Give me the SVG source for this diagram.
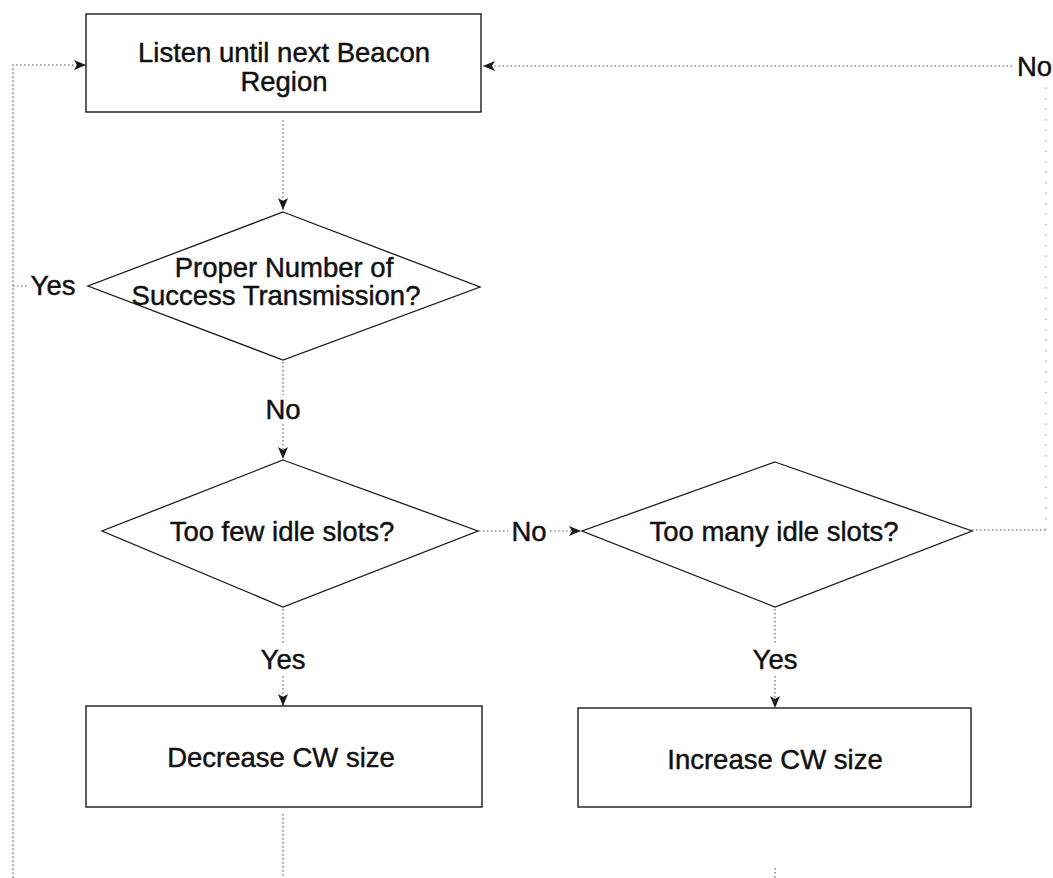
<svg xmlns="http://www.w3.org/2000/svg" width="1053" height="878" viewBox="0 0 1053 878">
  <style>
    .box { fill: #ffffff; stroke: #1a1a1a; stroke-width: 1.4; }
    .dia { fill: #ffffff; stroke: #1a1a1a; stroke-width: 1.3; }
    .t { font-family: "Liberation Sans", Arial, sans-serif; font-size: 27.5px; fill: #111111; stroke: #111111; stroke-width: 0.45; text-anchor: middle; }
    .c { fill: none; stroke: #555555; stroke-width: 1.1; stroke-dasharray: 1.5 2.5; }
    .faint { fill: none; stroke: #999999; stroke-width: 1; stroke-dasharray: 1.5 9; }
  </style>
  <defs>
    <marker id="arr" viewBox="0 0 12 10" refX="12" refY="5" markerWidth="12" markerHeight="10" markerUnits="userSpaceOnUse" orient="auto">
      <path d="M0,0 L12,5 L0,10 L3,5 Z" fill="#1a1a1a"/>
    </marker>
  </defs>
  <rect width="1053" height="878" fill="#ffffff"/>

  <g id="connectors">
    <line class="c" x1="283" y1="120" x2="283" y2="210" marker-end="url(#arr)"/>
    <line class="c" x1="283" y1="362" x2="283" y2="395"/>
    <line class="c" x1="283" y1="424" x2="283" y2="459" marker-end="url(#arr)"/>
    <line class="c" x1="13" y1="286" x2="29" y2="286"/>
    <polyline class="c" points="13,878 13,65 86,65" marker-end="url(#arr)"/>
    <line class="c" x1="479" y1="531" x2="508" y2="531"/>
    <line class="c" x1="550" y1="531" x2="581" y2="531" marker-end="url(#arr)"/>
    <line class="c" x1="283" y1="609" x2="283" y2="643"/>
    <line class="c" x1="283" y1="676" x2="283" y2="706" marker-end="url(#arr)"/>
    <line class="c" x1="775" y1="609" x2="775" y2="643"/>
    <line class="c" x1="775" y1="676" x2="775" y2="708" marker-end="url(#arr)"/>
    <line class="c" x1="972" y1="530" x2="1046" y2="530"/>
    <line class="faint" x1="1046" y1="530" x2="1046" y2="85"/>
    <line class="c" x1="1012" y1="66" x2="483" y2="66" marker-end="url(#arr)"/>
    <line class="c" x1="283" y1="814" x2="283" y2="878"/>
    <line class="c" x1="775" y1="868" x2="775" y2="878"/>
    <text class="t" x="53" y="295">Yes</text>
    <text class="t" x="283" y="419">No</text>
    <text class="t" x="529" y="541">No</text>
    <text class="t" x="283" y="669">Yes</text>
    <text class="t" x="775" y="669">Yes</text>
    <text class="t" x="1017" y="76" style="text-anchor:start">No</text>
  </g>

  <g id="listen">
    <rect class="box" x="86" y="14" width="395" height="98"/>
    <text class="t" x="284" y="62">Listen until next Beacon</text>
    <text class="t" x="284" y="91">Region</text>
  </g>

  <g id="proper">
    <polygon class="dia" points="283,212 480,287 283,360 88,286"/>
    <text class="t" x="284" y="277">Proper Number of</text>
    <text class="t" x="276" y="305">Success Transmission?</text>
  </g>

  <g id="toofew">
    <polygon class="dia" points="283,460 478,531 283,607 102,531"/>
    <text class="t" x="282" y="541">Too few idle slots?</text>
  </g>

  <g id="toomany">
    <polygon class="dia" points="775,462 972,531 775,607 582,531"/>
    <text class="t" x="774" y="541">Too many idle slots?</text>
  </g>

  <g id="decrease">
    <rect class="box" x="86" y="706" width="396" height="101"/>
    <text class="t" x="281" y="767">Decrease CW size</text>
  </g>

  <g id="increase">
    <rect class="box" x="578" y="708" width="393" height="99"/>
    <text class="t" x="775" y="769">Increase CW size</text>
  </g>
</svg>
